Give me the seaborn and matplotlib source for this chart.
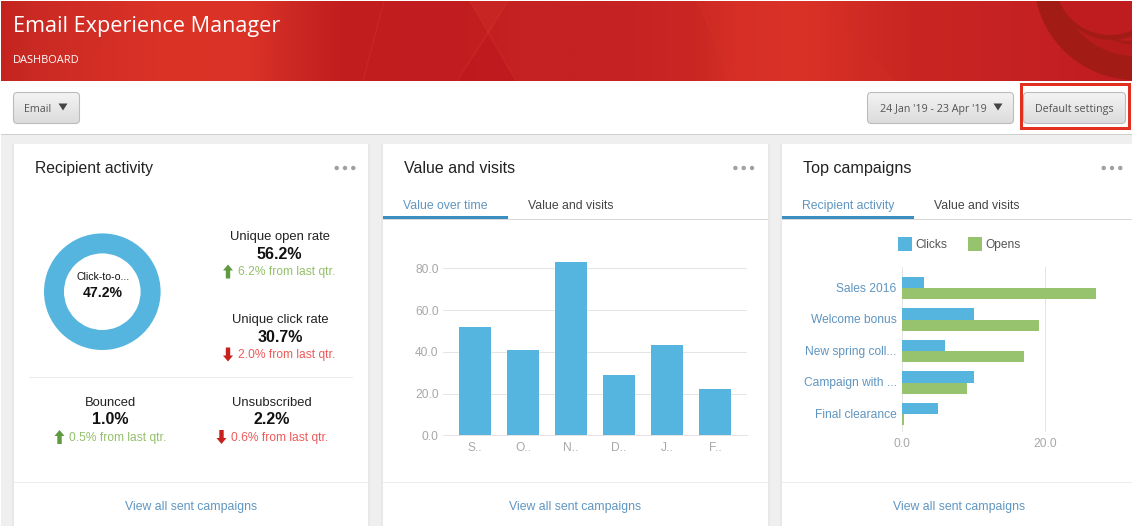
import numpy as np
import pandas as pd
import matplotlib
matplotlib.use("Agg")
import matplotlib.pyplot as plt
from matplotlib.colors import to_rgb
from matplotlib.patches import Rectangle, FancyBboxPatch, Circle, Polygon
from matplotlib.transforms import ScaledTranslation
import seaborn as sns

# ---- data -------------------------------------------------------------
month_labels = ["S..", "O..", "N..", "D..", "J..", "F.."]
month_values = [51.9, 40.9, 83.0, 28.9, 43.3, 22.2]
value_ticks = [0, 20, 40, 60, 80]

campaigns = ["Sales 2016", "Welcome bonus", "New spring coll...", "Campaign with ...", "Final clearance"]
clicks = [3.0, 10.0, 6.0, 10.0, 5.0]
opens = [27.1, 19.1, 17.0, 9.05, 0.2]
campaign_ticks = [0, 20]

donut_values = [100]
BLUE = "#56b5de"
GREEN = "#97c36e"

# ---- set-up -----------------------------------------------------------
sns.set_theme(style="white")
plt.rcParams["font.family"] = ["Liberation Sans", "DejaVu Sans"]
W, H = 1132, 526
fig = plt.figure(figsize=(W / 100, H / 100), dpi=100, facecolor="white")
ui = fig.add_axes([0, 0, 1, 1], zorder=0)
ui.set_xlim(0, W); ui.set_ylim(H, 0); ui.axis("off"); ui.set_autoscale_on(False)
PX = 0.72


def px_axes(l, t, r, b, z=2):
    a = fig.add_axes([l / W, 1 - b / H, (r - l) / W, (b - t) / H], zorder=z)
    a.patch.set_alpha(0)
    return a


def rect(x0, y0, x1, y1, c, z=1):
    ui.add_patch(Rectangle((x0, y0), x1 - x0, y1 - y0, fc=c, ec="none", zorder=z))


def txt(x, y, s, px=12, c="#333333", ha="center", w="normal", fam=None, z=8):
    kw = {"family": fam} if fam else {}
    ui.text(x, y + 0.36 * px, s, fontsize=px * PX, color=c, ha=ha, va="baseline", weight=w, zorder=z, **kw)


# ---- page & header ----------------------------------------------------
rect(1, 135, W, H, "#efefef", 1)
rect(1, 134, W, 135.2, "#cfcfcf", 1.5)

stops_x = [0, 30, 100, 170, 250, 295, 340, 450, 520, 620, 695, 735, 800, 860, 920, 1040, 1132]
stops_c = ["#c4221f", "#c92a23", "#d32e25", "#dc3327", "#da3226", "#cb2723", "#c21e1f", "#c11c1f",
           "#c52223", "#c62224", "#ca2723", "#d62f26", "#da3226", "#d02b24", "#c82522", "#c52124", "#c01b20"]
xs = np.arange(0, W)
rgb = np.array([to_rgb(c) for c in stops_c])
grad = np.stack([np.interp(xs, stops_x, rgb[:, i]) for i in range(3)], axis=-1)[None, :, :]
ui.imshow(grad, extent=(1, W, 81, 1), aspect="auto", zorder=2, interpolation="bilinear")
hdr = Rectangle((1, 1), W - 1, 80, transform=ui.transData, fc="none", ec="none")
ui.add_patch(hdr)


def poly(pts, c, a=1.0, z=2.2):
    p = Polygon(pts, closed=True, fc=c, ec="none", alpha=a, zorder=z)
    ui.add_patch(p); p.set_clip_path(hdr)


poly([(130, 1), (292, 1), (255, 81), (78, 81)], "#e03527", 0.1)
poly([(470, 1), (508, 1), (489, 34)], "#ca2825", 0.7)
poly([(489, 35), (516, 81), (457, 81)], "#bf191e", 0.8)
poly([(698, 1), (820, 1), (895, 81), (732, 81)], "#df3527", 0.12)
for a, b in [((470, 1), (516, 81)), ((508, 1), (457, 81)), ((384, 1), (363, 81)), ((698, 1), (732, 81))]:
    l, = ui.plot([a[0], b[0]], [a[1], b[1]], color="#dc3a2c", lw=0.7, alpha=0.35, zorder=2.4)
    l.set_clip_path(hdr)
swirl = [(1135, -21, 101, "#a31b15"), (1135, -20, 76, "#b81b1c"), (1138, -25, 70, "#a31b15"),
         (1130, -25, 66, "#bf1c20"), (1112, -18, 58, "#a31b15"), (1110, -20, 55, "#bf1c20")]
for i, (cx, cy, r, c) in enumerate(swirl):
    cc = Circle((cx, cy), r, fc=c, ec="none", zorder=2.6 + i * 0.02)
    ui.add_patch(cc); cc.set_clip_path(hdr)

txt(13, 24.5, "Email Experience Manager", 21.6, "white", "left", fam="Open Sans")
txt(13, 59, "DASHBOARD", 11, "white", "left", fam="Open Sans")


# ---- toolbar ----------------------------------------------------------
def button(x0, y0, x1, y1):
    g = np.linspace(0.955, 0.86, 40)[:, None]
    b = FancyBboxPatch((x0, y0), x1 - x0, y1 - y0, boxstyle="round,pad=0,rounding_size=4",
                       fc="none", ec="#bcbcbc", lw=0.8, zorder=4)
    ui.add_patch(b)
    im = ui.imshow(g, extent=(x0, x1, y1, y0), cmap="gray", vmin=0, vmax=1, aspect="auto", zorder=3.5)
    im.set_clip_path(b)


def caret(x, y):
    ui.add_patch(Polygon([(x - 4.5, y - 3.5), (x + 4.5, y - 3.5), (x, y + 3.5)], fc="#444444", ec="none", zorder=6))


button(13.5, 92.5, 79.5, 123.5)
button(867.5, 92.5, 1013.5, 123.5)
button(1023.5, 92.5, 1125.5, 123.5)
txt(38, 108, "Email", 10.8, "#555555", fam="Open Sans")
caret(63, 107)
txt(933, 108, "24 Jan '19 - 23 Apr '19", 10.8, "#555555", fam="Open Sans")
caret(998, 107)
txt(1074.5, 108, "Default settings", 10.8, "#555555", fam="Open Sans")
ui.add_patch(Rectangle((1020.8, 83.5), 107.7, 44.3, fc="none", ec="#e1301f", lw=3 * PX, zorder=7))

# ---- cards ------------------------------------------------------------
cards = [(14, 368), (383, 768), (782, W)]
titles = ["Recipient activity", "Value and visits", "Top campaigns"]
title_x = [35, 404, 803]
title_px = [15.8, 16, 16.1]
dots_x = [345, 743.7, 1112]
for (x0, x1), t, tx, tp, dx0 in zip(cards, titles, title_x, title_px, dots_x):
    rect(x0 - 2, 144, x1 + 2, H, "#e8e8e8", 1.6)
    rect(x0, 144, x1, H, "white", 1.8)
    txt(tx, 167, t, tp, "#222222", "left")
    rect(x0, 482, x1, 483, "#ececec", 2)
    for dx in (-8.3, 0, 8.3):
        ui.add_patch(Circle((dx0 + dx, 168), 2.2, fc="#a0a0a0", ec="none", zorder=3))
for cx in (191, 575, 959):
    txt(cx, 505.5, "View all sent campaigns", 12.3, "#5f95c0")

# tabs
for x0, x1, ux, a_x, a, b_x, b in [(383, 768, 508, 403, "Value over time", 528, "Value and visits"),
                                   (782, W, 914, 802, "Recipient activity", 934, "Value and visits")]:
    rect(x0, 219, x1, 220, "#d8d8d8", 2)
    rect(x0, 216, ux, 219, "#3a8fc0", 2.1)
    txt(a_x, 204.5, a, 12.3, "#5f95c0", "left")
    txt(b_x, 204.5, b, 12.3, "#444444", "left")


# ---- recipient activity -----------------------------------------------
def arrow(x, yc, up, c):
    s = -1 if up else 1
    tip = yc + s * 7
    ui.add_patch(Polygon([(x, tip), (x - 5, tip - s * 6), (x - 2.2, tip - s * 6), (x - 2.2, yc - s * 7),
                          (x + 2.2, yc - s * 7), (x + 2.2, tip - s * 6), (x + 5, tip - s * 6)],
                         fc=c, ec="none", zorder=6))


UPG, UPT, DNR, DNT = "#5f9a3e", "#93c06a", "#c8201c", "#ee5a5a"
stats = [
    (279.5, 235.5, "Unique open rate", "56.2%", 228, 237.5, "6.2% from last qtr.", True),
    (280, 318.5, "Unique click rate", "30.7%", 228, 237.5, "2.0% from last qtr.", False),
    (110.5, 401, "Bounced", "1.0%", 59.5, 69, "0.5% from last qtr.", True),
    (272, 401, "Unsubscribed", "2.2%", 221.5, 231, "0.6% from last qtr.", False),
]
for cx, y, name, val, ax_, tx_, delta, up in stats:
    txt(cx, y, name, 13, "#222222")
    txt(cx, y + 17.5, val, 16, "#111111", w="bold")
    arrow(ax_, y + 36, up, UPG if up else DNR)
    txt(tx_, y + 35.5, delta, 12, UPT if up else DNT, "left")
rect(29, 377, 353, 378, "#ececec", 2)

dn = px_axes(102.3 - 60, 291.7 - 60, 102.3 + 60, 291.7 + 60)
dn.pie(donut_values, colors=[BLUE], radius=58.3 / 60, startangle=90,
       wedgeprops=dict(width=20 / 60, edgecolor="none", linewidth=0))
dn.set_xlim(-1, 1); dn.set_ylim(-1, 1)
txt(103, 276, "Click-to-o...", 10.5, "#111111")
txt(103, 292, "47.2%", 14, "#111111", w="bold")

# ---- value and visits chart -------------------------------------------
TICK = "#a8a8a8"
GRID = "#e4e4e4"
ax1 = px_axes(443, 247.4, 747, 435.3)
sns.barplot(data=pd.DataFrame({"month": month_labels, "value": month_values}), x="month", y="value",
            color=BLUE, saturation=1, width=2 / 3, linewidth=0, ax=ax1, zorder=3)
ax1.set_xlim(-2 / 3, 5 + 2 / 3); ax1.set_ylim(0, 90)
ax1.set_yticks(value_ticks, [f"{v:.1f}" for v in value_ticks])
ax1.set_xlabel(""); ax1.set_ylabel("")
ax1.yaxis.grid(True, color=GRID, lw=1 * PX, zorder=0); ax1.set_axisbelow(True)
ax1.tick_params(axis="x", length=0, pad=5, labelsize=12 * PX, labelcolor=TICK)
ax1.tick_params(axis="y", length=0, pad=3.2, labelsize=12 * PX, labelcolor=TICK)
for s in ("top", "left", "right"):
    ax1.spines[s].set_visible(False)
ax1.spines["bottom"].set_color(GRID); ax1.spines["bottom"].set_linewidth(1 * PX)

# ---- top campaigns chart ----------------------------------------------
ax2 = px_axes(902.3, 267, W, 432)
long = pd.DataFrame({
    "campaign": campaigns * 2,
    "metric": ["Clicks"] * len(campaigns) + ["Opens"] * len(campaigns),
    "value": clicks + opens,
})
sns.barplot(data=long, y="campaign", x="value", hue="metric", hue_order=["Clicks", "Opens"],
            palette=[BLUE, GREEN], saturation=1, width=0.7, linewidth=0, orient="h", ax=ax2, zorder=3)
ax2.set_xlim(0, (W - 902.3) / 7.15); ax2.set_ylim(4.571, -0.667)
ax2.set_xticks(campaign_ticks, [f"{v:.1f}" for v in campaign_ticks])
ax2.set_xlabel(""); ax2.set_ylabel("")
ax2.xaxis.grid(True, color=GRID, lw=1 * PX, zorder=0); ax2.set_axisbelow(True)
ax2.tick_params(axis="x", length=0, pad=4, labelsize=12 * PX, labelcolor=TICK)
ax2.tick_params(axis="y", length=0, pad=4, labelsize=12 * PX, labelcolor="#5f95c0")
for t in ax2.get_yticklabels():
    t.set_transform(t.get_transform() + ScaledTranslation(0, 1 / 100, fig.dpi_scale_trans))
for s in ax2.spines.values():
    s.set_visible(False)
sns.move_legend(ax2, loc="center left", bbox_to_anchor=(898.3 / W, 1 - 244.3 / H),
                bbox_transform=fig.transFigure, ncol=2, title=None, frameon=False, fontsize=12 * PX,
                handlelength=14 / 12, handleheight=1.42, handletextpad=3 / 12, columnspacing=1.75,
                borderpad=0, borderaxespad=0, labelcolor="#555555")
for h in ax2.get_legend().get_patches():
    h.set_edgecolor("none"); h.set_linewidth(0)

fig.savefig("out.png", dpi=100)
